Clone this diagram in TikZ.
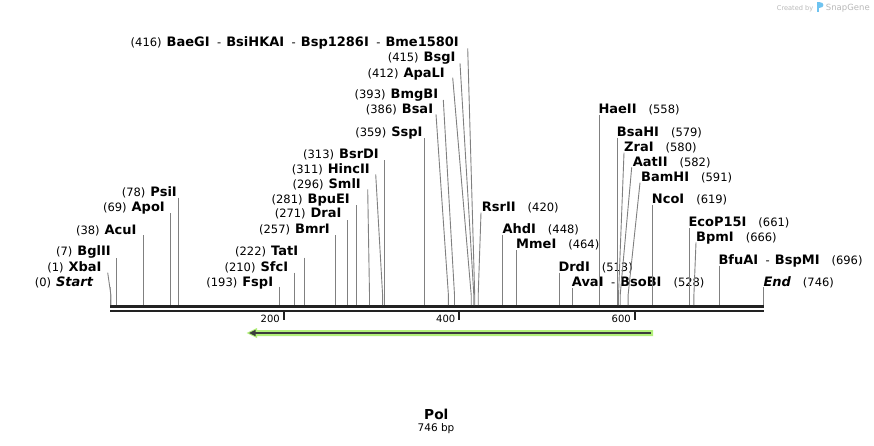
\documentclass[tikz,border=0pt]{standalone}
\usepackage{fontspec}
\setmainfont{DejaVu Sans}
\definecolor{sitegray}{RGB}{128,128,128}
\definecolor{barcol}{RGB}{34,34,34}
\definecolor{featgreen}{RGB}{178,240,122}
\definecolor{featdark}{RGB}{60,60,60}
\definecolor{sgtext}{RGB}{185,185,185}
\definecolor{sgblue}{RGB}{110,195,240}
\newcommand\enz[1]{{\fontsize{13}{15}\selectfont\bfseries #1}}
\newcommand\bpn[1]{{\fontsize{11.5}{13}\selectfont #1}}
\newcommand\dsh{\hspace{7.5pt}\bpn{-}\hspace{5pt}}
\newcommand\gapR{\hspace{12pt}}
\newcommand\gapL{\hspace{5pt}}
% left-side label: id, xright, ycenter, topx, topy, sitex, text
\newcommand\LS[7]{%
  \node[lblL] (n#1) at (#2,#3+4.6) {#7};
  \coordinate (t#1) at (#4,#5);
  \coordinate (b#1) at (#6,295);
  \coordinate (s#1) at (#6,305);
  \draw[cut] (t#1) -- (b#1) -- (s#1);}
% right-side label: id, xleft, ycenter, topx, topy, sitex, text
\newcommand\RS[7]{%
  \node[lblR] (n#1) at (#2,#3+4.6) {#7};
  \coordinate (t#1) at (#4,#5);
  \coordinate (b#1) at (#6,295);
  \coordinate (s#1) at (#6,305);
  \draw[cut] (t#1) -- (b#1) -- (s#1);}
\begin{document}
\begin{tikzpicture}[x=1pt,y=-1pt,
  lblL/.style={inner sep=0pt, anchor=base east},
  lblR/.style={inner sep=0pt, anchor=base west},
  cut/.style={draw=sitegray, line width=0.9pt},
  ticklbl/.style={inner sep=0pt, anchor=base east, font=\fontsize{10}{12}\selectfont},
  tickmark/.style={draw=barcol, line width=2pt}]
\useasboundingbox[fill=white] (0,0) rectangle (874,445);

% sequence bars
\coordinate (seqTL) at (110,306.7);
\coordinate (seqTR) at (764,306.7);
\coordinate (seqBL) at (110,311.2);
\coordinate (seqBR) at (764,311.2);
\draw[barcol, line width=3.3pt] (seqTL) -- (seqTR);
\draw[barcol, line width=2.3pt] (seqBL) -- (seqBR);

% ticks
\foreach \v/\x in {200/283.5, 400/459, 600/634.5}{
  \coordinate (tk\v a) at (\x,312);
  \coordinate (tk\v b) at (\x,319.5);
  \draw[tickmark] (tk\v a) -- (tk\v b);
  \node[ticklbl] (tl\v) at (\x-3.5,322.6) {\v};
}

% feature arrow (Pol, reverse)
\fill[featgreen] (653,330) -- (257,330) -- (257,328) -- (246.5,333) -- (257,338) -- (257,336) -- (653,336) -- cycle;
\coordinate (fR) at (651,333);
\coordinate (fL) at (254,333);
\draw[featdark, line width=2pt] (fR) -- (fL);
\fill[featdark] (249,333) -- (255.5,329.8) -- (255.5,336.2) -- cycle;

% left labels
\LS{0}{93.3}{281.7}{110}{287}{110}{\bpn{(0)}\gapL\enz{\itshape Start}}
\LS{1}{101.7}{266.7}{107.7}{272.7}{110.9}{\bpn{(1)}\gapL\enz{XbaI}}
\LS{7}{111}{251}{116.4}{258.3}{116.4}{\bpn{(7)}\gapL\enz{BglII}}
\LS{38}{136.7}{230}{143.6}{235}{143.6}{\bpn{(38)}\gapL\enz{AcuI}}
\LS{69}{165}{207.3}{170.6}{213.3}{170.6}{\bpn{(69)}\gapL\enz{ApoI}}
\LS{78}{177}{192}{178.4}{197.7}{178.4}{\bpn{(78)}\gapL\enz{PsiI}}
\LS{193}{273.3}{282.3}{279.3}{286.7}{279.3}{\bpn{(193)}\gapL\enz{FspI}}
\LS{210}{288.3}{266.7}{294.2}{272.7}{294.2}{\bpn{(210)}\gapL\enz{SfcI}}
\LS{222}{298.3}{251}{304.4}{257.7}{304.4}{\bpn{(222)}\gapL\enz{TatI}}
\LS{257}{330}{229.3}{335.6}{235}{335.6}{\bpn{(257)}\gapL\enz{BmrI}}
\LS{271}{341.7}{213.3}{347.4}{220}{347.4}{\bpn{(271)}\gapL\enz{DraI}}
\LS{281}{350}{198.7}{356.5}{205}{356.5}{\bpn{(281)}\gapL\enz{BpuEI}}
\LS{296}{361}{183.7}{367.7}{189.3}{369.5}{\bpn{(296)}\gapL\enz{SmlI}}
\LS{311}{370}{168.7}{375.7}{174.3}{382.6}{\bpn{(311)}\gapL\enz{HincII}}
\LS{313}{379}{154}{384.4}{160}{384.4}{\bpn{(313)}\gapL\enz{BsrDI}}
\LS{359}{422.7}{131.8}{424.8}{138.3}{424.8}{\bpn{(359)}\gapL\enz{SspI}}
\LS{386}{433.3}{109}{436}{114.3}{448.4}{\bpn{(386)}\gapL\enz{BsaI}}
\LS{393}{438.3}{94.3}{443.3}{100}{454.5}{\bpn{(393)}\gapL\enz{BmgBI}}
\LS{412}{445}{72.7}{452.7}{77.7}{471.2}{\bpn{(412)}\gapL\enz{ApaLI}}
\LS{415}{455.7}{57.3}{460}{63.3}{473.8}{\bpn{(415)}\gapL\enz{BsgI}}
\LS{416}{459}{41.5}{467.7}{48.3}{474.7}{\bpn{(416)}\gapL\enz{BaeGI}\dsh\enz{BsiHKAI}\dsh\enz{Bsp1286I}\dsh\enz{Bme1580I}}

% right labels
\RS{420}{481.7}{207.2}{481}{212.7}{478.2}{\enz{RsrII}\gapR\bpn{(420)}}
\RS{448}{502.3}{229.3}{502.6}{235}{502.6}{\enz{AhdI}\gapR\bpn{(448)}}
\RS{464}{516}{244.3}{516.5}{250}{516.5}{\enz{MmeI}\gapR\bpn{(464)}}
\RS{513}{558.3}{267.3}{559.2}{272.7}{559.2}{\enz{DrdI}\gapR\bpn{(513)}}
\RS{528}{571.7}{282.3}{572.6}{288.3}{572.6}{\enz{AvaI}\dsh\enz{BsoBI}\gapR\bpn{(528)}}
\RS{558}{598.3}{109.3}{599}{115}{599}{\enz{HaeII}\gapR\bpn{(558)}}
\RS{579}{616.7}{132.3}{617.4}{137.7}{617.4}{\enz{BsaHI}\gapR\bpn{(579)}}
\RS{580}{624}{147.3}{624}{152.7}{618.5}{\enz{ZraI}\gapR\bpn{(580)}}
\RS{582}{632.7}{161.7}{631.7}{167.3}{620.2}{\enz{AatII}\gapR\bpn{(582)}}
\RS{591}{641}{177.3}{640}{182.7}{628.1}{\enz{BamHI}\gapR\bpn{(591)}}
\RS{619}{651.7}{199}{652.4}{205}{652.4}{\enz{NcoI}\gapR\bpn{(619)}}
\RS{661}{688.3}{222}{689.2}{228}{689.2}{\enz{EcoP15I}\gapR\bpn{(661)}}
\RS{666}{696}{236.7}{696}{242.3}{693.9}{\enz{BpmI}\gapR\bpn{(666)}}
\RS{696}{718.3}{260}{719.8}{265.7}{719.8}{\enz{BfuAI}\dsh\enz{BspMI}\gapR\bpn{(696)}}
\RS{746}{763.3}{281.7}{763.4}{287.3}{763.4}{\enz{\itshape End}\gapR\bpn{(746)}}

% title
\node[inner sep=0pt, anchor=base, font=\fontsize{13.7}{16}\selectfont\bfseries] (title) at (436.3,419) {Pol};
\node[inner sep=0pt, anchor=base, font=\fontsize{10.5}{12}\selectfont] (len) at (436,431) {746 bp};

% watermark
\node[inner sep=0pt, anchor=base west, text=sgtext, font=\fontsize{6.6}{8}\selectfont] (cb) at (776.7,10) {Created by};
\fill[sgblue] (816.8,1.5) rectangle (819,12);
\fill[sgblue] (819,1.5) .. controls (824.5,1.5) and (824.5,8) .. (819,8) -- cycle;
\node[inner sep=0pt, anchor=base west, text=sgtext, font=\fontsize{8.5}{10}\selectfont] (sg) at (825.7,10.5) {SnapGene};
\end{tikzpicture}
\end{document}
